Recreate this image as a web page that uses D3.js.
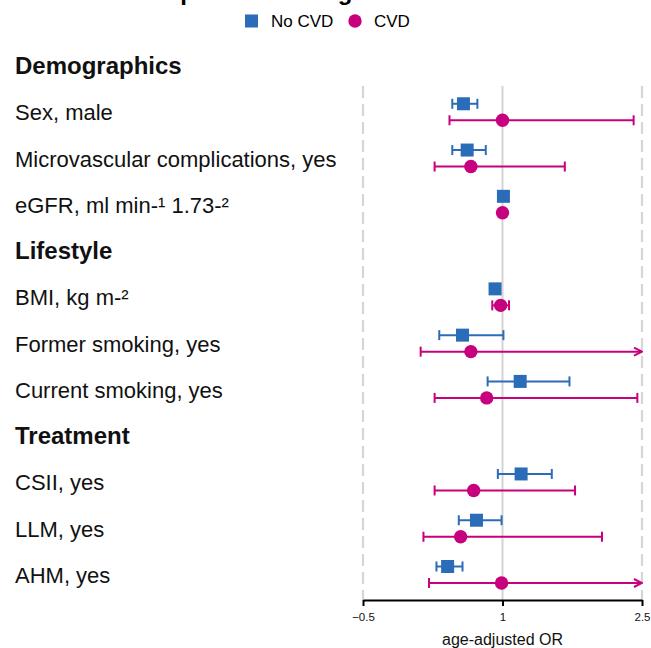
<!DOCTYPE html>
<html>
<head>
<meta charset="utf-8">
<script src="https://cdn.jsdelivr.net/npm/d3@7"></script>
<style>
  html, body { margin: 0; padding: 0; background: #fff; }
  svg { display: block; font-family: "Liberation Sans", Arial, sans-serif; }
</style>
</head>
<body>
<svg id="chart" width="651" height="648"></svg>
<script>
// Row layout: section headers and variables, top to bottom
const rowLabels = [
  "Demographics", "Sex, male", "Microvascular complications, yes", "eGFR, ml min-\u00b9 1.73-\u00b2",
  "Lifestyle", "BMI, kg m-\u00b2", "Former smoking, yes", "Current smoking, yes",
  "Treatment", "CSII, yes", "LLM, yes", "AHM, yes"
];
const headers = ["Demographics", "Lifestyle", "Treatment"];

// Variables with estimates
const variables = [
  "Sex, male", "Microvascular complications, yes", "eGFR, ml min-\u00b9 1.73-\u00b2",
  "BMI, kg m-\u00b2", "Former smoking, yes", "Current smoking, yes",
  "CSII, yes", "LLM, yes", "AHM, yes"
];

// No CVD: odds ratio with 95% CI
const noCvdOR    = [0.58, 0.62, 1.01, 0.92, 0.57, 1.19, 1.20, 0.72, 0.41];
const noCvdLower = [0.46, 0.46, 1.00, 0.91, 0.32, 0.84, 0.95, 0.53, 0.29];
const noCvdUpper = [0.73, 0.82, 1.02, 0.93, 1.01, 1.72, 1.53, 0.99, 0.57];

// CVD: odds ratio with 95% CI
const cvdOR    = [1.00, 0.66, 1.00, 0.98, 0.66, 0.83, 0.69, 0.55, 0.99];
const cvdLower = [0.43, 0.27, 0.99, 0.89, 0.12, 0.27, 0.27, 0.15, 0.21];
const cvdUpper = [2.41, 1.67, 1.01, 1.07, 3.10, 2.45, 1.78, 2.07, 3.90];

const xTicks = [-0.5, 1, 2.5];
const xDomain = [-0.5, 2.5];

const colors = { noCvd: "#2B6CB8", cvd: "#C7007D" };

const svg = d3.select("#chart");

const x = d3.scaleLinear().domain(xDomain).range([363, 642]);
const y = d3.scalePoint().domain(rowLabels).range([66, 575]);

// Title (mostly outside the visible area)
svg.append("text")
  .attr("x", 127).attr("y", 0)
  .attr("font-size", 24).attr("font-weight", "bold")
  .attr("fill", "#000")
  .text("Comparison among the cohorts");

// Legend
const legend = svg.append("g");
legend.append("rect").attr("x", 245).attr("y", 14.5).attr("width", 13).attr("height", 13)
  .attr("fill", colors.noCvd);
legend.append("text").attr("x", 271).attr("y", 27).attr("font-size", 17).text("No CVD");
legend.append("circle").attr("cx", 355).attr("cy", 21).attr("r", 6.7).attr("fill", colors.cvd);
legend.append("text").attr("x", 374).attr("y", 27).attr("font-size", 17).text("CVD");

// Reference lines
const plotTop = 86, plotBottom = 600;
svg.selectAll("line.dash").data(xDomain).join("line")
  .attr("class", "dash")
  .attr("x1", d => x(d)).attr("x2", d => x(d))
  .attr("y1", plotTop).attr("y2", plotBottom)
  .attr("stroke", "#d6d6d6").attr("stroke-width", 2.2)
  .attr("stroke-dasharray", "12,6");
svg.append("line")
  .attr("x1", x(1)).attr("x2", x(1))
  .attr("y1", plotTop).attr("y2", plotBottom)
  .attr("stroke", "#d4d4d4").attr("stroke-width", 2);

// Row labels
svg.selectAll("text.row").data(rowLabels).join("text")
  .attr("class", "row")
  .attr("x", 15)
  .attr("y", d => y(d) + 8)
  .attr("font-size", d => headers.includes(d) ? 24 : 22)
  .attr("font-weight", d => headers.includes(d) ? "bold" : "normal")
  .attr("fill", "#111")
  .text(d => d);

// Arrow marker for intervals running past the axis limit
const defs = svg.append("defs");
defs.append("marker")
  .attr("id", "arrow-cvd")
  .attr("viewBox", "0 0 10 10")
  .attr("refX", 9).attr("refY", 5)
  .attr("markerWidth", 10).attr("markerHeight", 10)
  .attr("markerUnits", "userSpaceOnUse")
  .attr("orient", "auto")
  .append("path")
  .attr("d", "M1,1 L9,5 L1,9")
  .attr("fill", "none").attr("stroke", colors.cvd).attr("stroke-width", 2);

function drawSeries(est, lo, hi, color, offset, shape, markerId) {
  const g = svg.append("g");
  const rows = variables.map((v, i) => ({
    v, est: est[i], lo: lo[i], hi: hi[i], yy: y(v) + offset
  }));
  const xmax = xDomain[1];
  rows.forEach(r => {
    const clipped = r.hi > xmax;
    const hiX = x(Math.min(r.hi, xmax));
    g.append("line")
      .attr("x1", x(r.lo)).attr("x2", hiX)
      .attr("y1", r.yy).attr("y2", r.yy)
      .attr("stroke", color).attr("stroke-width", 2)
      .attr("marker-end", clipped ? `url(#${markerId})` : null);
    const caps = clipped ? [x(r.lo)] : [x(r.lo), hiX];
    caps.forEach(cx => {
      g.append("line")
        .attr("x1", cx).attr("x2", cx)
        .attr("y1", r.yy - 5).attr("y2", r.yy + 5)
        .attr("stroke", color).attr("stroke-width", 2);
    });
    if (shape === "square") {
      g.append("rect")
        .attr("x", x(r.est) - 6.5).attr("y", r.yy - 6.5)
        .attr("width", 13).attr("height", 13)
        .attr("fill", color);
    } else {
      g.append("circle")
        .attr("cx", x(r.est)).attr("cy", r.yy).attr("r", 6.7)
        .attr("fill", color);
    }
  });
}

drawSeries(noCvdOR, noCvdLower, noCvdUpper, colors.noCvd, -8.5, "square", null);
drawSeries(cvdOR, cvdLower, cvdUpper, colors.cvd, 8, "circle", "arrow-cvd");

// X axis
const axis = svg.append("g")
  .attr("transform", `translate(0,${plotBottom})`)
  .call(d3.axisBottom(x).tickValues(xTicks).tickSize(6).tickSizeOuter(0).tickFormat(d3.format("")));
axis.select(".domain").attr("stroke", "#000").attr("stroke-width", 2);
axis.selectAll(".tick line").attr("stroke", "#000").attr("stroke-width", 2);
axis.selectAll(".tick text")
  .attr("font-size", 11.5)
  .attr("font-family", "'Liberation Sans', Arial, sans-serif")
  .attr("fill", "#111")
  .attr("dy", "1.0em");

svg.append("text")
  .attr("x", x(1)).attr("y", 645)
  .attr("text-anchor", "middle")
  .attr("font-size", 16)
  .attr("fill", "#111")
  .text("age-adjusted OR");
</script>
</body>
</html>
